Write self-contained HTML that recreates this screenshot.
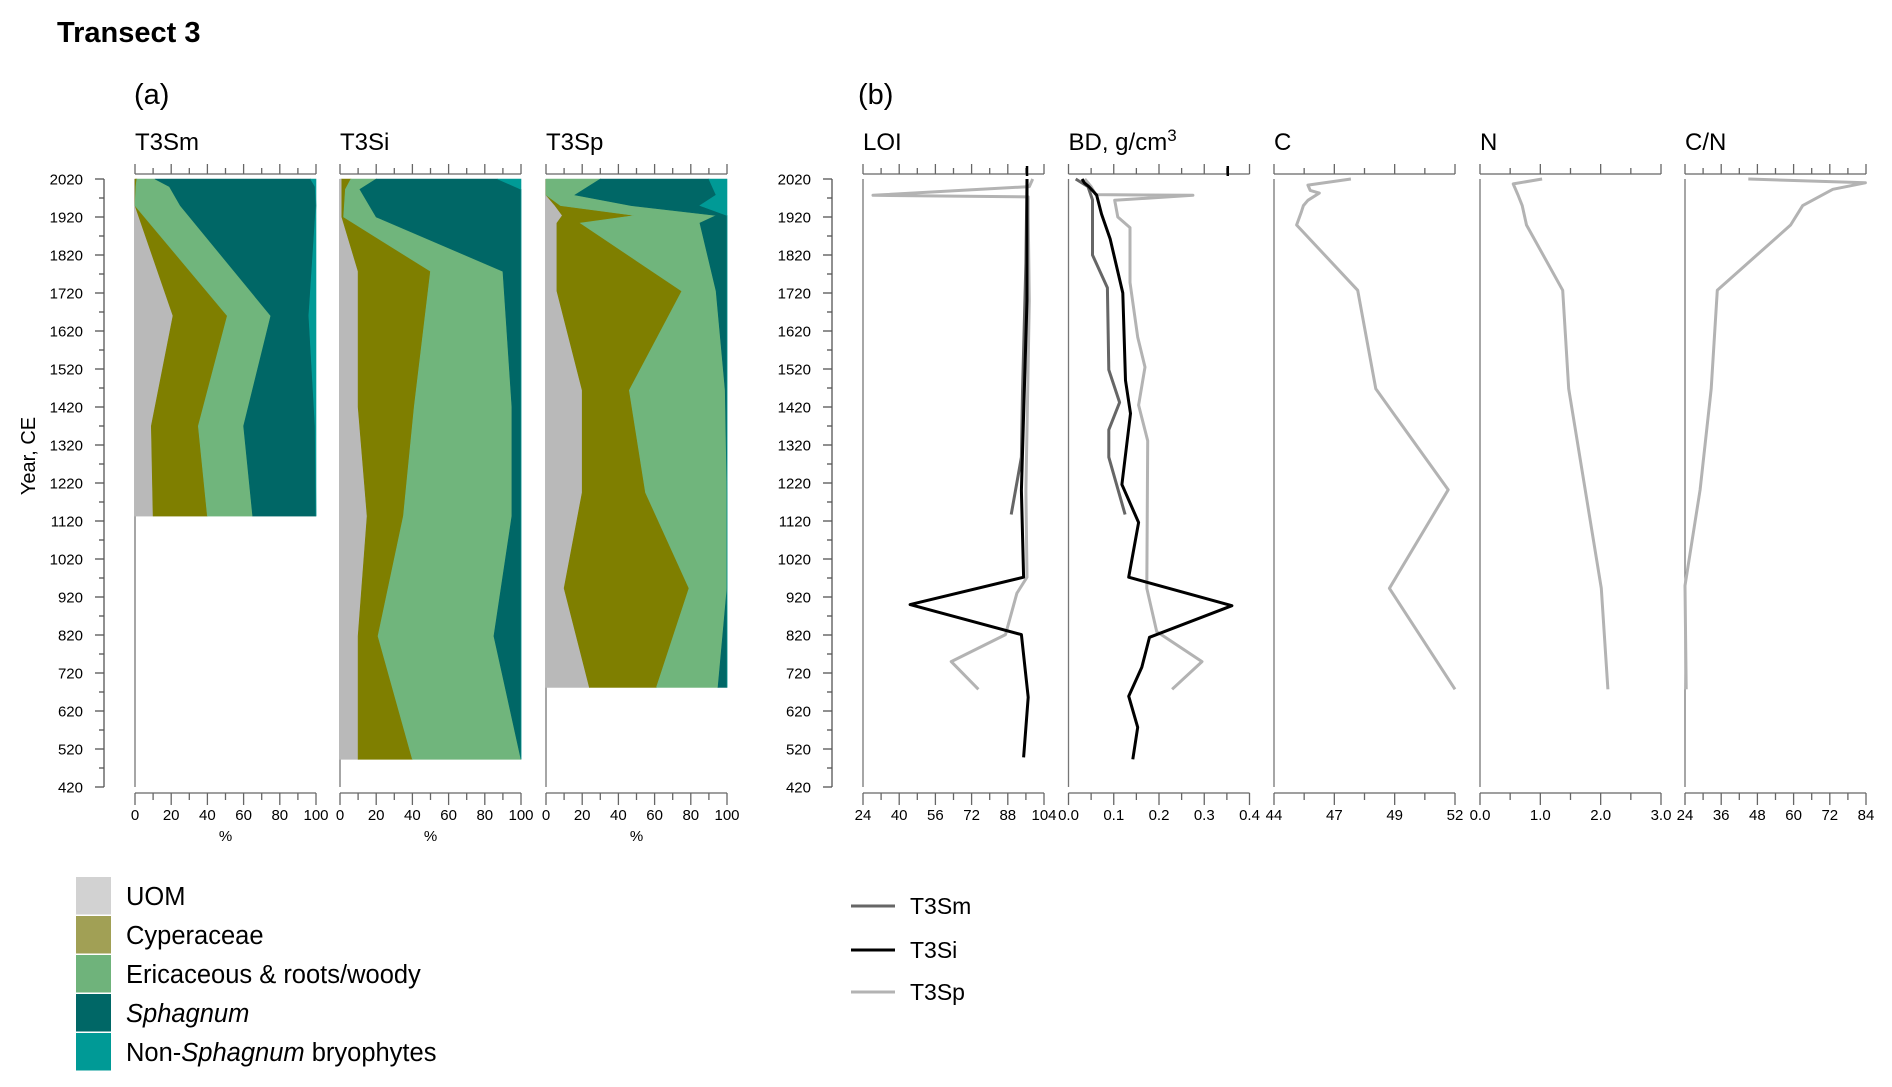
<!DOCTYPE html>
<html><head><meta charset="utf-8"><style>
html,body{margin:0;padding:0;background:#fff;}
svg{display:block;font-family:"Liberation Sans",Arial,sans-serif;}
</style></head><body>
<svg id="chart" width="1892" height="1087" viewBox="0 0 1892 1087" xmlns="http://www.w3.org/2000/svg">
<text x="57" y="42" font-size="29" font-weight="bold">Transect 3</text>
<text x="134" y="104" font-size="29">(a)</text>
<text x="858" y="104" font-size="29">(b)</text>
<text transform="translate(35,456) rotate(-90)" text-anchor="middle" font-size="20">Year, CE</text>
<g id="layer"></g>
</svg>
<script>
// ---- shared axis ----
const yearTicks = [2020,1920,1820,1720,1620,1520,1420,1320,1220,1120,1020,920,820,720,620,520,420];
const Y_TOP = 179, Y_BOT = 787;
function yOf(yr){ return Y_TOP + (2020 - yr) / 1600 * (Y_BOT - Y_TOP); }

// ---- panel (a) stratigraphic data (component %) ----
const smYears = [2020,2000,1950,1660,1370,1133];
const smUOM = [0,0,0,21,9,10];
const smCyp = [1,0.5,0,30,26,30];
const smEri = [10,18.5,25,24,25,25];
const smSph = [86,80.5,75,21,39.5,35];
const smNon = [3,0.5,0,4,0.5,0];

const siYears = [2020,1993,1920,1777,1420,1133,817,493];
const siUOM = [1,1,1,10,10,15,10,10];
const siCyp = [5,2,1,40,31,20,11,30];
const siEri = [14,8,18,40,54,60,64,60];
const siSph = [67,89,80,10,5,5,15,0];
const siNon = [13,0,0,0,0,0,0,0];

const spYears = [2020,1978,1950,1924,1904,1725,1464,1195,943,682];
const spUOM = [0,0,5,9,6,6,20,20,10,24];
const spCyp = [0,0,3,40,13,69,26,35,69,37];
const spEri = [30,16,39,45,66,19,53,45,21,34];
const spSph = [60,78,38,6,15,6,1,0,0,5];
const spNon = [10,6,15,0,0,0,0,0,0,0];

const pctTicks = [0,20,40,60,80,100];

// ---- panel (b) line data ----
const loiSmYears = [2020,1800,1460,1288,1137];
const loiSm = [96.5,96,94.5,94,89.5];
const loiSiYears = [2020,1990,1700,1400,1200,972,900,821,656,498];
const loiSi = [96.5,96.5,96.5,95,94,95,44.8,94,97,95];
const loiSpYears = [2020,2000,1977,1973,1920,1700,1200,972,930,821,750,677];
const loiSp = [99,97.5,28.4,97,97,97.5,96,96.5,92,87,63,75];

const bdSmYears = [2020,2000,1965,1820,1734,1518,1432,1360,1288,1137];
const bdSm = [0.016,0.043,0.053,0.053,0.086,0.089,0.113,0.089,0.089,0.125];
const bdSiYears = [2020,2010,2000,1978,1928,1863,1720,1490,1403,1216,1116,972,897,814,735,659,577,493];
const bdSi = [0.03,0.035,0.045,0.062,0.073,0.092,0.12,0.126,0.137,0.118,0.155,0.133,0.361,0.179,0.162,0.133,0.153,0.142];
const bdSpYears = [2020,2000,1979,1977,1964,1920,1892,1748,1604,1525,1425,1331,943,829,750,677];
const bdSp = [0.036,0.05,0.06,0.275,0.102,0.109,0.136,0.136,0.153,0.169,0.155,0.175,0.173,0.195,0.295,0.229];

const cYears = [2020,2004,1990,1983,1964,1950,1932,1899,1727,1468,1202,943,677];
const cVals = [47.4,45.5,45.6,46.0,45.5,45.3,45.2,45.0,47.7,48.5,51.7,49.1,52.0];
const nYears = [2020,2007,1978,1950,1899,1727,1468,943,677];
const nVals = [1.03,0.55,0.63,0.70,0.77,1.37,1.47,2.01,2.12];
const cnYears = [2020,2010,1993,1950,1899,1727,1468,1202,950,677];
const cnVals = [45,83.8,73,63,59,34.7,32.7,29,24,24.4];

const loiTicks = ["24","40","56","72","88","104"];
const bdTicks = ["0.0","0.1","0.2","0.3","0.4"];
const cTicks = ["44","47","49","52"];
const nTicks = ["0.0","1.0","2.0","3.0"];
const cnTicks = ["24","36","48","60","72","84"];

const NS = "http://www.w3.org/2000/svg";
const layer = document.getElementById('layer');
function mk(tag, attrs, parent){
  const e = document.createElementNS(NS, tag);
  for (const k in attrs) e.setAttribute(k, attrs[k]);
  (parent||layer).appendChild(e); return e;
}
function txt(x,y,s,size,anchor,parent){
  const t = mk('text',{x:x,y:y,'font-size':size,'text-anchor':anchor||'start'},parent);
  t.textContent = s; return t;
}

function yearAxis(x, name){
  const g = mk('g',{});
  
  
  mk('line',{x1:x,y1:yOf(2020),x2:x,y2:yOf(420),stroke:'#555','stroke-width':1.3},g);
  for (let yr=2020; yr>=420; yr-=50){
    const major = yearTicks.indexOf(yr) >= 0;
    mk('line',{x1:x-(major?9:5),y1:yOf(yr),x2:x,y2:yOf(yr),stroke:'#555','stroke-width':1.3},g);
  }
  yearTicks.forEach(yr=>{
    const t = txt(x-21, yOf(yr)+5.5, String(yr), 15, 'end', g);
    
    
  });
}
yearAxis(104, 'y-axis-a');
yearAxis(832, 'y-axis-b');

function frame(x0, w, title, name, labels, nInt){
  const g = mk('g',{});
  
  
  const t = txt(x0, 150, '', 24, 'start', g);
  
  
  if (title === 'BD'){
    t.textContent = 'BD, g/cm';
    const s = mk('tspan',{dy:-9,'font-size':17},t); s.textContent='3';
  } else t.textContent = title;
  mk('line',{x1:x0,y1:174,x2:x0+w,y2:174,stroke:'#666','stroke-width':1.3},g);
  for (let i=0;i<=nInt;i++){
    const xx = x0 + w*i/nInt;
    mk('line',{x1:xx,y1:(i%2==0)?164:168,x2:xx,y2:174,stroke:'#666','stroke-width':1.3},g);
  }
  mk('line',{x1:x0,y1:Y_TOP,x2:x0,y2:Y_BOT,stroke:'#777','stroke-width':1.3},g);
  mk('line',{x1:x0,y1:793,x2:x0+w,y2:793,stroke:'#666','stroke-width':1.3},g);
  for (let i=0;i<=nInt;i++){
    const xx = x0 + w*i/nInt;
    mk('line',{x1:xx,y1:793,x2:xx,y2:(i%2==0)?805:800,stroke:'#666','stroke-width':1.3},g);
  }
  labels.forEach((s,i)=>{
    const xx = x0 + w*i/(labels.length-1);
    const l = txt(xx, 820, s, 15, 'middle', g);
    
    
  });
  return g;
}

const colors = ['#b9b9b9','#7f7f00','#70b57c','#006766','#009a96'];
const compNames = ['uom','cyperaceae','ericaceous','sphagnum','non-sphagnum'];
function stackPanel(x0, w, title, name, years, comps){
  const g = frame(x0, w, title, name, pctTicks.map(String), 10);
  const xs = p => x0 + w*p/100;
  let prev = years.map(()=>0);
  comps.forEach((arr,ci)=>{
    const cum = arr.map((v,i)=>prev[i]+v);
    let pts = [];
    years.forEach((yr,i)=>pts.push(xs(cum[i]).toFixed(1)+','+yOf(yr).toFixed(1)));
    for (let i=years.length-1;i>=0;i--) pts.push(xs(prev[i]).toFixed(1)+','+yOf(years[i]).toFixed(1));
    const p = mk('polygon',{points:pts.join(' '),fill:colors[ci],stroke:colors[ci],'stroke-width':0.6},g);
    
    
    prev = cum;
  });
  const pl = txt(x0 + w/2, 841, '%', 15, 'middle', g);
  
  
}
stackPanel(135, 181, 'T3Sm', 'panel-t3sm', smYears, [smUOM,smCyp,smEri,smSph,smNon]);
stackPanel(340, 181, 'T3Si', 'panel-t3si', siYears, [siUOM,siCyp,siEri,siSph,siNon]);
stackPanel(546, 181, 'T3Sp', 'panel-t3sp', spYears, [spUOM,spCyp,spEri,spSph,spNon]);

const lineCol = {sm:'#666666', si:'#000000', sp:'#b3b3b3'};
function linePanel(x0, w, title, name, labels, vmin, vmax, series, nInt){
  const g = frame(x0, w, title, name, labels, nInt);
  const xs = v => x0 + w*(v-vmin)/(vmax-vmin);
  series.forEach(s=>{
    const d = s.years.map((yr,i)=>(i?'L':'M')+xs(s.vals[i]).toFixed(1)+','+yOf(yr).toFixed(1)).join(' ');
    const p = mk('path',{d:d,fill:'none',stroke:lineCol[s.k],'stroke-width':3,'stroke-linejoin':'round'},g);
    
    
  });
  return {g:g, xs:xs};
}
const loi = linePanel(863,181,'LOI','panel-loi',loiTicks,24,104,[
  {k:'sp',years:loiSpYears,vals:loiSp},{k:'sm',years:loiSmYears,vals:loiSm},{k:'si',years:loiSiYears,vals:loiSi}],10);
mk('line',{x1:loi.xs(96.5),y1:166,x2:loi.xs(96.5),y2:176,stroke:'#000','stroke-width':2.5},loi.g);
const bd = linePanel(1068.5,181,'BD','panel-bd',bdTicks,0,0.4,[
  {k:'sp',years:bdSpYears,vals:bdSp},{k:'sm',years:bdSmYears,vals:bdSm},{k:'si',years:bdSiYears,vals:bdSi}],8);
mk('line',{x1:bd.xs(0.352),y1:166,x2:bd.xs(0.352),y2:176,stroke:'#000','stroke-width':2.5},bd.g);
linePanel(1274,181,'C','panel-c',cTicks,44,52,[{k:'sp',years:cYears,vals:cVals}],6);
linePanel(1480,181,'N','panel-n',nTicks,0,3,[{k:'sp',years:nYears,vals:nVals}],6);
linePanel(1685,181,'C/N','panel-cn',cnTicks,24,84,[{k:'sp',years:cnYears,vals:cnVals}],10);

const legA = mk('g',{});


const legColors = ['#d2d2d2','#a1a055','#6fb37b','#006766','#009a96'];
const legLabels = [['UOM'],['Cyperaceae'],['Ericaceous & roots/woody'],['','Sphagnum'],['Non-','Sphagnum',' bryophytes']];
legColors.forEach((c,i)=>{
  const y = 877 + i*39;
  const e = mk('g',{},legA);
  
  
  mk('rect',{x:76,y:y,width:35,height:37.5,fill:c},e);
  const t = mk('text',{x:126,y:y+28,'font-size':25.5},e);
  legLabels[i].forEach((s,j)=>{
    const sp = mk('tspan',{'font-style':(j===1)?'italic':'normal'},t);
    sp.textContent = s;
  });
});

const legB = mk('g',{});


[['sm','T3Sm',906],['si','T3Si',950],['sp','T3Sp',992]].forEach(r=>{
  const e = mk('g',{},legB);
  
  
  mk('line',{x1:851,y1:r[2],x2:895,y2:r[2],stroke:lineCol[r[0]],'stroke-width':3},e);
  txt(910, r[2]+8, r[1], 23, 'start', e);
});
</script>
</body></html>
